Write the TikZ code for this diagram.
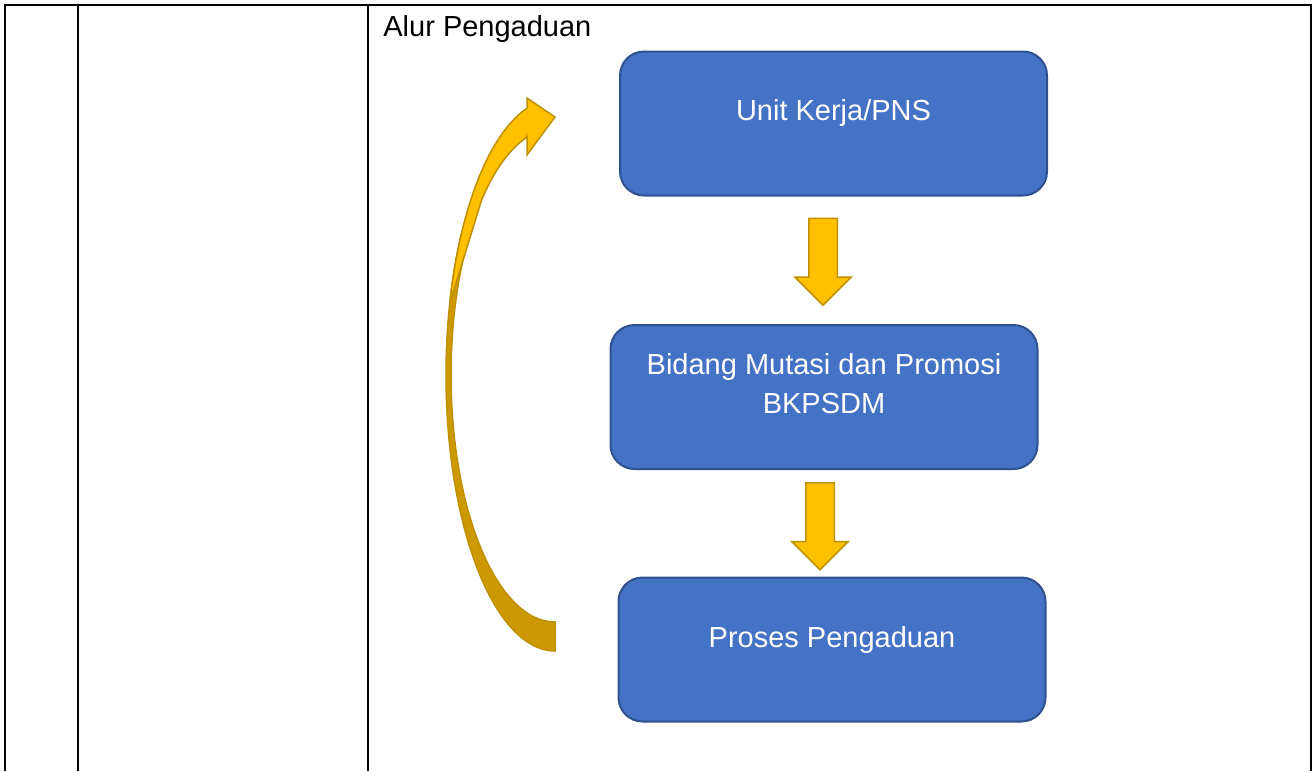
\documentclass[tikz,border=0pt]{standalone}
\usepackage{fontspec}
\setmainfont{Liberation Sans}
\usetikzlibrary{shapes.arrows, calc}

\definecolor{boxblue}{HTML}{4472C4}
\definecolor{boxedge}{HTML}{2F528F}
\definecolor{arrowgold}{HTML}{FFC000}
\definecolor{arrowedge}{HTML}{BF9000}
\definecolor{arrowdark}{HTML}{CC9900}

\tikzset{
  flowbox/.style={draw=boxedge, fill=boxblue, line width=1pt, rounded corners=12pt,
    minimum width=213.5pt, minimum height=72pt, inner sep=0pt},
  boxtext/.style={text=white, font=\fontsize{14.5pt}{19.5pt}\selectfont, align=center, inner sep=0pt},
  downarrow/.style={single arrow, draw=arrowedge, fill=arrowgold, line width=0.75pt,
    rotate=-90, inner sep=0pt, text height=6.75pt, text depth=6.75pt,
    single arrow head extend=7pt, minimum width=27.5pt, minimum height=43.5pt, anchor=tail},
  tableline/.style={line width=1pt}
}

\begin{document}
\begin{tikzpicture}[x=0.5pt, y=-0.5pt]
  \useasboundingbox (0,0) rectangle (1315,771);

  % Table frame
  \draw[tableline] (4,5) -- (1312,5);
  \draw[tableline] (5,5) -- (5,771) (78,5) -- (78,771) (368,5) -- (368,771) (1311,5) -- (1311,771);

  % Title
  \node[anchor=base west, inner sep=0pt, font=\fontsize{14.5pt}{17pt}\selectfont] (title) at (383,36) {Alur Pengaduan};

  % Boxes
  \node[flowbox] (unit) at (833.5,123.5) {};
  \node[flowbox] (bidang) at (824,397) {};
  \node[flowbox] (proses) at (832,649.5) {};

  \node[boxtext] (unittext) at ([yshift=5.5pt]unit.center) {Unit Kerja/PNS};
  \node[boxtext] (bidangtext) at ([yshift=6.5pt]bidang.center) {Bidang Mutasi dan Promosi\\BKPSDM};
  \node[boxtext] (prosestext) at ([yshift=5pt]proses.center) {Proses Pengaduan};

  % Down arrows
  \node[downarrow] (arrowa) at ([xshift=-5.25pt, yshift=-10.5pt]unit.south) {};
  \node[downarrow] (arrowb) at ([xshift=-2pt, yshift=-6pt]bidang.south) {};

  % Curved return arrow: back part
  \filldraw[fill=arrowdark, draw=arrowedge, line width=0.75pt]
    plot[domain=30:-90, samples=40, smooth, variable=\t] ({555-109*cos(\t)}, {375-276*sin(\t)})
    -- plot[domain=-90:30, samples=40, smooth, variable=\t] ({555-104*cos(\t)}, {375-247*sin(\t)})
    -- cycle;
  % Curved return arrow: front part with head
  \filldraw[fill=arrowgold, draw=arrowedge, line width=0.75pt]
    (527,108) -- (527,98) -- (555,117) -- (527,155) -- (527,137)
    -- plot[domain=74.4:45, samples=30, smooth, variable=\t] ({555-104*cos(\t)}, {375-247*sin(\t)})
    -- plot[domain=15:75.1, samples=30, smooth, variable=\t] ({555-109*cos(\t)}, {375-276*sin(\t)})
    -- cycle;
\end{tikzpicture}
\end{document}
